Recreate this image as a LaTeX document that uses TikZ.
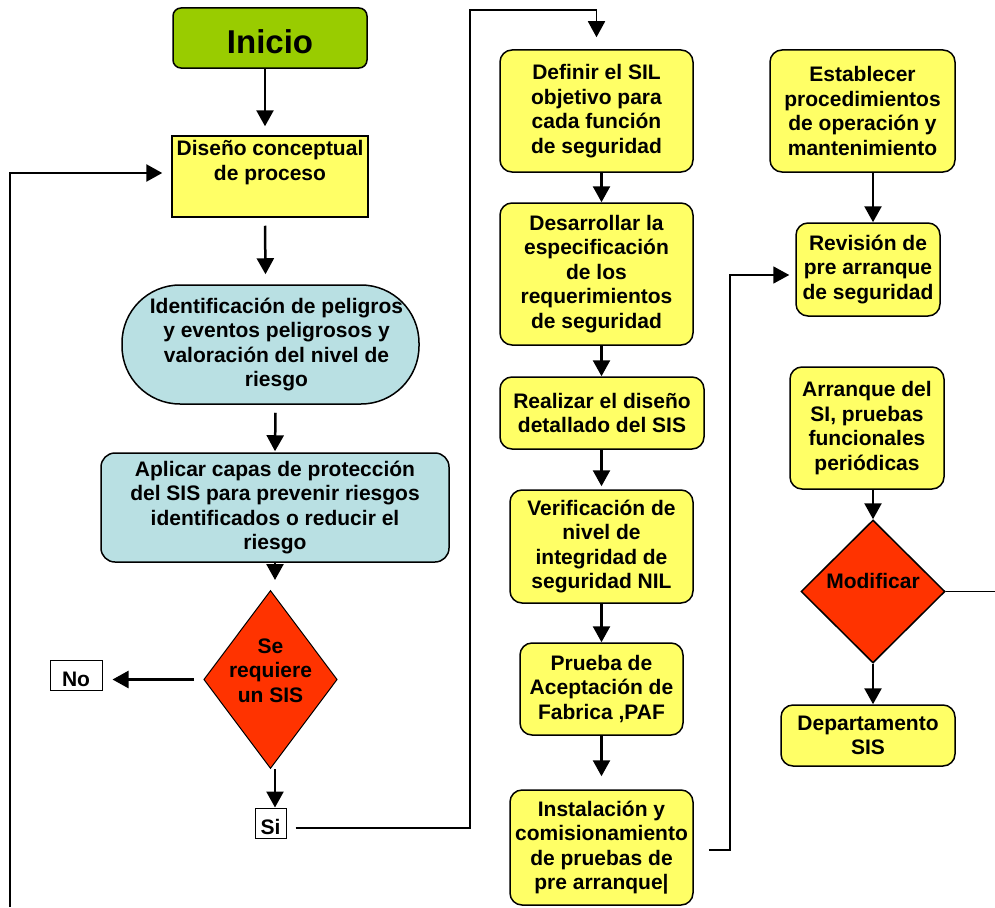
\documentclass[tikz,border=0pt]{standalone}
\usepackage{fontspec}
\setmainfont{Liberation Sans}
\usepackage{tikz}
\definecolor{vv}{RGB}{153,204,0}
\definecolor{am}{RGB}{255,255,102}
\definecolor{ce}{RGB}{185,224,227}
\definecolor{rj}{RGB}{255,51,0}
\usetikzlibrary{shapes.geometric}
\usetikzlibrary{arrows.meta}
\newcommand{\ftxt}{\fontsize{21}{24.5}\selectfont\bfseries}

\begin{document}
\begin{tikzpicture}[
box/.style={rectangle, draw=black, line width=1.5pt, inner sep=1pt, align=center, font=\ftxt},
caja/.style={box, fill=am, rounded corners=12pt},
rombo/.style={diamond, draw=black, line width=1pt, fill=rj, align=center, font=\ftxt},
etq/.style={rectangle, draw=black, line width=1pt, fill=white, inner sep=1pt, font=\ftxt, text height=22pt, text depth=0pt},
arr/.style={line width=2.5pt, -{Triangle[width=17pt,length=16pt]}},
lnk/.style={line width=1.8pt, -{Triangle[width=17pt,length=16pt]}},
thn/.style={line width=1.2pt}]
\useasboundingbox (0pt,0pt) rectangle (995pt,-907pt);
\node (1) [box, fill=vv, rounded corners=8pt, minimum width=194pt, minimum height=60pt, text height=30pt, text depth=0pt, font=\fontsize{33}{36}\selectfont\bfseries] at (270pt,-38pt) {Inicio};
\node (2) [box, fill=am, minimum width=196pt, minimum height=81pt] at (270pt,-176.5pt) {Diseño conceptual\\de proceso\\\strut};
\node (3) [box, fill=ce, rounded corners=58pt, minimum width=297pt, minimum height=119pt] at (270.5pt,-344.5pt) {\hspace*{12pt}Identificación de peligros\\\hspace*{12pt}y eventos peligrosos y\\\hspace*{12pt}valoración del nivel de\\\hspace*{12pt}riesgo};
\node (4) [box, fill=ce, rounded corners=14pt, minimum width=348pt, minimum height=109pt] at (275pt,-507.5pt) {Aplicar capas de protección\\del SIS para prevenir riesgos\\identificados o reducir el\\riesgo};
\node (5) [rombo, aspect=0.75, inner sep=-3pt, minimum width=133pt, minimum height=177pt] at (270.5pt,-679.5pt) {Se\\requiere\\un SIS\\[-14pt]\strut};
\node (6) [etq, minimum width=52pt, minimum height=30pt] at (76pt,-675pt) {No};
\node (7) [etq, minimum width=31pt, minimum height=30pt] at (270.5pt,-823pt) {Si};
\node (8) [caja, minimum width=193pt, minimum height=122pt] at (596.5pt,-111pt) {Definir el SIL\\objetivo para\\cada función\\de seguridad};
\node (9) [caja, minimum width=193pt, minimum height=142pt] at (596.5pt,-274pt) {Desarrollar la\\especificación\\de los\\requerimientos\\de seguridad};
\node (10) [caja, minimum width=204pt, minimum height=72pt] at (602pt,-413pt) {Realizar el diseño\\detallado del SIS};
\node (11) [caja, minimum width=183pt, minimum height=113pt] at (601.5pt,-546.5pt) {Verificación de\\nivel de\\integridad de\\seguridad NIL};
\node (12) [caja, minimum width=163pt, minimum height=92pt] at (601.5pt,-689pt) {Prueba de\\Aceptación de\\Fabrica ,PAF};
\node (13) [caja, minimum width=183pt, minimum height=115pt] at (601.5pt,-847.5pt) {Instalación y\\comisionamiento\\de pruebas de\\pre arranque|};
\node (14) [caja, minimum width=185pt, minimum height=122pt] at (862.5pt,-111pt) {Establecer\\procedimientos\\de operación y\\mantenimiento};
\node (15) [caja, minimum width=144pt, minimum height=93pt] at (868pt,-269.5pt) {Revisión de\\pre arranque\\de seguridad};
\node (16) [caja, minimum width=154pt, minimum height=122pt] at (867pt,-428pt) {Arranque del\\SI, pruebas\\funcionales\\periódicas};
\node (17) [rombo, aspect=1, inner sep=0pt, line width=1.5pt, minimum width=144pt, minimum height=143pt] at (873pt,-591.5pt) {Modificar\\[-10pt]\strut};
\node (18) [caja, minimum width=174pt, minimum height=61pt] at (868pt,-735.5pt) {Departamento\\SIS};
\coordinate (a) at (10pt,-907pt);
\coordinate (b) at (470pt,-10pt);
\coordinate (c) at (730pt,-275pt);
\coordinate (d) at (995pt,-591.5pt);
\draw [arr] ([xshift=-5pt]1.south) -- ([xshift=-5pt,yshift=9pt]2.north);
\draw [arr] ([xshift=-5pt,yshift=-8pt]2.south) -- ([xshift=-5pt,yshift=10pt]3.north);
\draw [arr] ([xshift=5pt,yshift=-8pt]3.south) -- ([yshift=1pt]4.north);
\draw [arr] (4.south) -- ([yshift=10pt]5.north -| 4.south);
\draw [arr] ([xshift=-9pt]5.west) -- ([xshift=10pt]5.west -| 6.east);
\draw [arr] (5.south -| 4.south) -- (7.north -| 4.south);
\draw [lnk] ([xshift=9pt,yshift=-5pt]7.east) -| (b) -| ([yshift=12pt]8.north);
\draw [arr] (8.south -| 11) -- (9.north -| 11);
\draw [arr] (9.south -| 11) -- (10.north -| 11);
\draw [arr] (10.south -| 11) -- ([yshift=3pt]11.north);
\draw [arr] (11) -- (12);
\draw [arr] (12) -- ([yshift=13pt]13.north);
\draw [lnk] ([xshift=15pt,yshift=-2.5pt]13.east) -| (c) -- ([xshift=-6pt]c -| 15.west);
\draw [arr] (14.south -| 17) -- (15.north -| 17);
\draw [arr] (16.south -| 17) -- (17.north);
\draw [arr] (17.south) -- (17.south |- 18.north);
\draw [thn] (17.east) -- (d);
\draw [arr] (a) |- ([xshift=-9pt,yshift=3.5pt]2.west);
\end{tikzpicture}
\end{document}
